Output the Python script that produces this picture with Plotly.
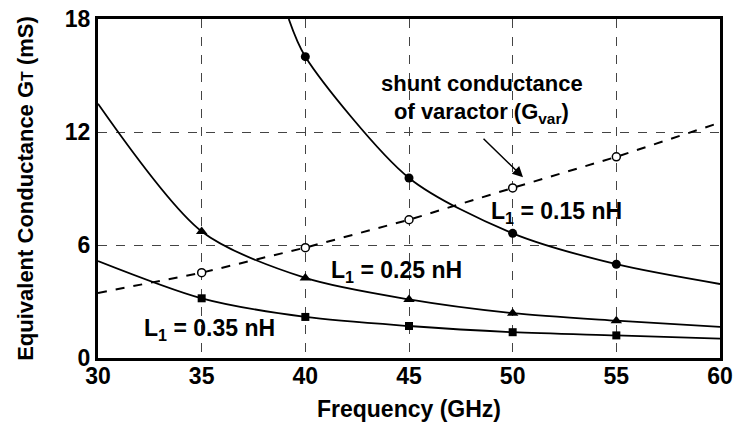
import plotly.graph_objects as go

# ---- data ----
freq = [30, 35, 40, 45, 50, 55, 60]
marker_freq = [35, 40, 45, 50, 55]

l015_freq = [39.2, 40, 45, 50, 55, 60]
l015_vals = [18.0, 16.0, 9.56, 6.62, 4.98, 3.93]
l015_mk_freq = [40, 45, 50, 55]
l015_mk_vals = [16.0, 9.56, 6.62, 4.98]

l025_vals = [13.5, 6.72, 4.25, 3.11, 2.38, 1.98, 1.65]
l035_vals = [5.15, 3.17, 2.18, 1.70, 1.37, 1.20, 1.03]
gvar_vals = [3.45, 4.53, 5.86, 7.34, 9.03, 10.68, 12.5]

x_ticks = [30, 35, 40, 45, 50, 55, 60]
y_ticks = [0, 6, 12, 18]

FONT = "Liberation Sans, Arial, sans-serif"

fig = go.Figure()

def sub(vals, xs, sel):
    return [v for x, v in zip(xs, vals) if x in sel]

# curves
fig.add_trace(go.Scatter(x=l015_freq, y=l015_vals, mode="lines",
                         line=dict(color="black", width=1.8, shape="spline", smoothing=0.8)))
fig.add_trace(go.Scatter(x=freq, y=l025_vals, mode="lines",
                         line=dict(color="black", width=1.8, shape="spline", smoothing=0.8)))
fig.add_trace(go.Scatter(x=freq, y=l035_vals, mode="lines",
                         line=dict(color="black", width=1.8, shape="spline", smoothing=0.8)))
fig.add_trace(go.Scatter(x=freq, y=gvar_vals, mode="lines",
                         line=dict(color="black", width=2, dash="dash")))

# markers
fig.add_trace(go.Scatter(x=l015_mk_freq, y=l015_mk_vals, mode="markers",
                         marker=dict(symbol="circle", size=9, color="black")))
fig.add_trace(go.Scatter(x=marker_freq, y=sub(l025_vals, freq, marker_freq), mode="markers",
                         marker=dict(symbol="triangle-up", size=10, color="black")))
fig.add_trace(go.Scatter(x=marker_freq, y=sub(l035_vals, freq, marker_freq), mode="markers",
                         marker=dict(symbol="square", size=8, color="black")))
fig.add_trace(go.Scatter(x=marker_freq, y=sub(gvar_vals, freq, marker_freq), mode="markers",
                         marker=dict(symbol="circle", size=8, color="white",
                                     line=dict(color="black", width=1.5))))

lab_font = dict(family=FONT, size=23, color="black")
ann = [
    dict(x=52.1, y=7.7, text="<b>L<sub>1</sub> = 0.15 nH</b>"),
    dict(x=44.4, y=4.6, text="<b>L<sub>1</sub> = 0.25 nH</b>"),
    dict(x=35.4, y=1.5, text="<b>L<sub>1</sub> = 0.35 nH</b>"),
    dict(x=48.5, y=14.6, text="<b>shunt conductance</b>"),
    dict(x=48.5, y=13.0, text="<b>of varactor (G<sub>var</sub>)</b>"),
]
for i, a in enumerate(ann):
    f = dict(lab_font)
    if i >= 3:
        f["size"] = 22
    fig.add_annotation(x=a["x"], y=a["y"], text=a["text"], showarrow=False,
                       font=f, xanchor="center", yanchor="middle")

# arrow
fig.add_annotation(x=50.5, y=9.6, ax=-41, ay=-40, text="", showarrow=True,
                   arrowhead=2, arrowsize=1.4, arrowwidth=1.5, arrowcolor="black")

fig.update_layout(
    width=734, height=423,
    margin=dict(l=98, r=14, t=19, b=65),
    plot_bgcolor="white", paper_bgcolor="white",
    showlegend=False,
    font=dict(family=FONT, color="black"),
)
fig.update_xaxes(
    range=[30, 60], tickvals=x_ticks, ticktext=[f"<b>{t}</b>" for t in x_ticks],
    tickfont=dict(family=FONT, size=23, color="black"),
    showline=True, linecolor="black", linewidth=3, mirror=True,
    showgrid=True, gridcolor="#444", gridwidth=1, griddash="dash",
    zeroline=False, ticks="", ticklen=0, automargin=False, ticklabelstandoff=-5,
    title=dict(text="<b>Frequency (GHz)</b>", font=dict(family=FONT, size=23, color="black"),
               standoff=14),
)
fig.update_yaxes(
    range=[0, 18], tickvals=y_ticks, ticktext=[f"<b>{t}</b>" for t in y_ticks],
    tickfont=dict(family=FONT, size=23, color="black"),
    showline=True, linecolor="black", linewidth=3, mirror=True,
    showgrid=True, gridcolor="#444", gridwidth=1, griddash="dash",
    zeroline=False, ticks="", ticklen=0, automargin=False,
    title=dict(text="<b>Equivalent Conductance G<span style='font-size:16px'>T</span> (mS)</b>",
               font=dict(family=FONT, size=22, color="black"), standoff=26),
)

fig.write_html("out.html", config={"displayModeBar": False},
               post_script="document.body.style.margin='0';document.body.style.overflow='hidden';")
